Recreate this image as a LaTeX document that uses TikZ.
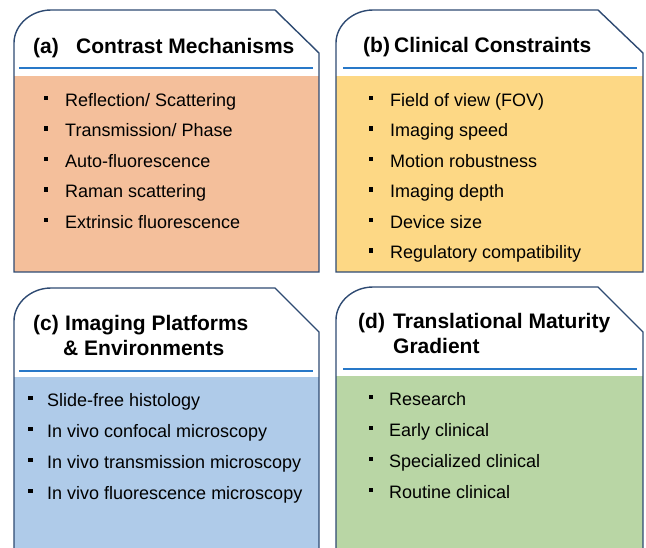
\documentclass[tikz,border=0pt]{standalone}
\usepackage{fontspec}
\setmainfont{Liberation Sans}
\definecolor{edgecol}{HTML}{2E4A72}
\definecolor{rulecol}{HTML}{2878C8}
\definecolor{fillA}{HTML}{F4BF9B}
\definecolor{fillB}{HTML}{FDD885}
\definecolor{fillC}{HTML}{AFCBE9}
\definecolor{fillD}{HTML}{B9D6A5}
% card outline: left, top, right, chamfer start x, chamfer end y, bottom
\newcommand{\cardoutline}[6]{%
  \draw[outline] (#1,#6) -- (#1,#2+33)
    .. controls (#1,#2+15) and (#1+17,#2) .. (#1+37,#2)
    -- (#4,#2) -- (#3,#5) -- (#3,#6) -- cycle;}
\begin{document}
\begin{tikzpicture}[x=1pt,y=-1pt,
  outline/.style={draw=edgecol, line width=1.4pt, line join=miter},
  rule/.style={draw=rulecol, line width=1.6pt},
  title/.style={anchor=base west, inner sep=0pt, text=black,
    font=\fontsize{21}{25}\selectfont\bfseries},
  item/.style={anchor=base west, inner sep=0pt, text=black,
    font=\fontsize{18}{21}\selectfont},
  dot/.style={rectangle, fill=black, minimum size=4.6pt, inner sep=0pt}]
\useasboundingbox (0,0) rectangle (646,547);
\clip (0,0) rectangle (646,547);

% ---------- (a) Contrast Mechanisms ----------
\fill[white] (14,10) rectangle (319,272);
\fill[fillA] (14,76) rectangle (319,272);
\cardoutline{14}{10}{319}{275}{53}{272}
\draw[rule] (19,68) -- (313,68);
\node[title] (la) at (33,53) {(a)};
\node[title] (ha) at (76,53) {Contrast Mechanisms};
\foreach \t [count=\i] in {Reflection/ Scattering,Transmission/ Phase,Auto-fluorescence,Raman scattering,Extrinsic fluorescence}{
  \node[dot] (ba\i) at (46,106+30.5*\i-30.5-8) {};
  \node[item] (ia\i) at (65,106+30.5*\i-30.5) {\t};
}

% ---------- (b) Clinical Constraints ----------
\fill[fillB] (336,76) rectangle (643,272);
\cardoutline{336}{10}{643}{598}{53}{272}
\draw[rule] (343,68) -- (637,68);
\node[title] (lb) at (363,52) {(b)};
\node[title] (hb) at (394,52) {Clinical Constraints};
\foreach \t [count=\i] in {Field of view (FOV),Imaging speed,Motion robustness,Imaging depth,Device size,Regulatory compatibility}{
  \node[dot] (bb\i) at (371,106+30.5*\i-30.5-8) {};
  \node[item] (ib\i) at (390,106+30.5*\i-30.5) {\t};
}

% ---------- (c) Imaging Platforms & Environments ----------
\fill[fillC] (14,377) rectangle (319,560);
\cardoutline{14}{288}{319}{275}{332}{560}
\draw[rule] (19,371) -- (313,371);
\node[title] (lc) at (33,330) {(c)};
\node[title] (hc1) at (65,330) {Imaging Platforms};
\node[title] (hc2) at (63,355) {\& Environments};
\foreach \t [count=\i] in {Slide-free histology,In vivo confocal microscopy,In vivo transmission microscopy,In vivo fluorescence microscopy}{
  \node[dot] (bc\i) at (30.5,406+31*\i-31-8) {};
  \node[item] (ic\i) at (47,406+31*\i-31) {\t};
}

% ---------- (d) Translational Maturity Gradient ----------
\fill[fillD] (336,376) rectangle (643,560);
\cardoutline{336}{287}{643}{598}{332}{560}
\draw[rule] (343,369) -- (637,369);
\node[title] (ld) at (358,328) {(d)};
\node[title] (hd1) at (393,328) {Translational Maturity};
\node[title] (hd2) at (393,353) {Gradient};
\foreach \t [count=\i] in {Research,Early clinical,Specialized clinical,Routine clinical}{
  \node[dot] (bd\i) at (371,405+31*\i-31-8) {};
  \node[item] (id\i) at (389,405+31*\i-31) {\t};
}
\end{tikzpicture}
\end{document}
